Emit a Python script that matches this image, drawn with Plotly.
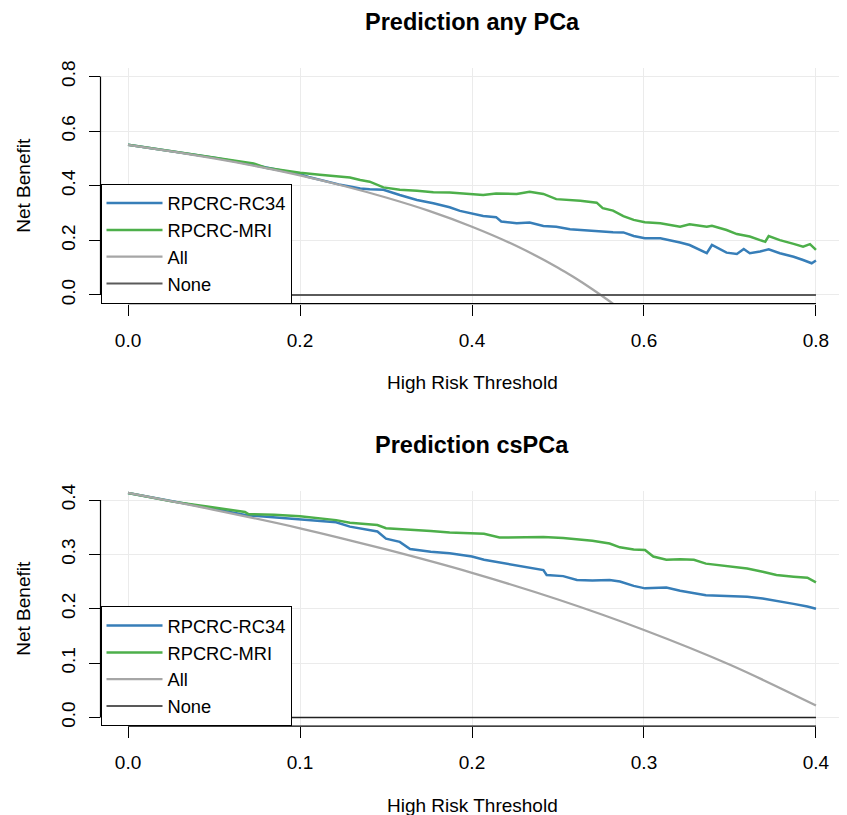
import plotly.graph_objects as go

# ---------------- data ----------------
top_rc34_x = [0, 0.05, 0.10, 0.13, 0.15, 0.17, 0.19, 0.20, 0.21, 0.223, 0.245, 0.258, 0.27, 0.281, 0.297,
              0.316, 0.336, 0.355, 0.374, 0.386, 0.40, 0.413, 0.428, 0.434, 0.452, 0.467, 0.483, 0.498,
              0.514, 0.526, 0.545, 0.564, 0.576, 0.588, 0.601, 0.619, 0.642, 0.653, 0.673, 0.679, 0.696,
              0.708, 0.716, 0.723, 0.735, 0.745, 0.758, 0.774, 0.785, 0.795, 0.80]
top_rc34_y = [0.55, 0.527, 0.503, 0.486, 0.474, 0.462, 0.448, 0.442, 0.432, 0.421, 0.405, 0.397, 0.390, 0.387,
              0.385, 0.366, 0.348, 0.336, 0.321, 0.308, 0.299, 0.289, 0.285, 0.269, 0.263, 0.265, 0.253, 0.250,
              0.241, 0.238, 0.236, 0.230, 0.229, 0.216, 0.208, 0.208, 0.192, 0.183, 0.153, 0.183, 0.155,
              0.150, 0.168, 0.153, 0.159, 0.167, 0.153, 0.140, 0.128, 0.116, 0.126]

top_mri_x = [0, 0.05, 0.10, 0.13, 0.146, 0.16, 0.18, 0.20, 0.223, 0.245, 0.258, 0.27, 0.281, 0.297, 0.316,
             0.336, 0.355, 0.374, 0.40, 0.413, 0.428, 0.452, 0.467, 0.483, 0.498, 0.514, 0.526, 0.545, 0.552,
             0.564, 0.576, 0.588, 0.601, 0.619, 0.642, 0.653, 0.673, 0.679, 0.696, 0.708, 0.723, 0.735, 0.741,
             0.745, 0.758, 0.774, 0.785, 0.793, 0.80]
top_mri_y = [0.55, 0.527, 0.503, 0.488, 0.482, 0.466, 0.456, 0.448, 0.44, 0.432, 0.430, 0.421, 0.415, 0.394,
             0.385, 0.382, 0.376, 0.375, 0.369, 0.366, 0.372, 0.370, 0.378, 0.370, 0.351, 0.348, 0.345, 0.338,
             0.318, 0.309, 0.289, 0.275, 0.266, 0.263, 0.250, 0.259, 0.250, 0.253, 0.238, 0.223, 0.214, 0.201,
             0.195, 0.216, 0.201, 0.187, 0.177, 0.186, 0.165]

top_all_x = [0, 0.05, 0.10, 0.15, 0.20, 0.25, 0.30, 0.35, 0.40, 0.45, 0.50, 0.52, 0.54, 0.56, 0.58]
top_all_y = [0.55, 0.526, 0.50, 0.471, 0.438, 0.400, 0.357, 0.308, 0.25, 0.182, 0.10, 0.062, 0.021, -0.023, -0.07]

top_none_x = [0, 0.8]
top_none_y = [0, 0]

bot_rc34_x = [0, 0.026, 0.046, 0.069, 0.085, 0.10, 0.121, 0.129, 0.137, 0.145, 0.150, 0.158, 0.164, 0.176,
              0.187, 0.20, 0.207, 0.216, 0.23, 0.2415, 0.2434, 0.253, 0.261, 0.270, 0.280, 0.286, 0.294,
              0.3006, 0.313, 0.321, 0.336, 0.348, 0.360, 0.369, 0.377, 0.387, 0.395, 0.40]
bot_rc34_y = [0.413, 0.397, 0.386, 0.372, 0.368, 0.364, 0.359, 0.351, 0.346, 0.342, 0.329, 0.323, 0.310, 0.305,
              0.302, 0.296, 0.290, 0.285, 0.276, 0.271, 0.262, 0.260, 0.253, 0.252, 0.253, 0.250, 0.242,
              0.2375, 0.239, 0.233, 0.225, 0.223, 0.222, 0.219, 0.215, 0.209, 0.204, 0.200]

bot_mri_x = [0, 0.026, 0.046, 0.068, 0.070, 0.085, 0.10, 0.121, 0.129, 0.145, 0.150, 0.164, 0.176, 0.187,
             0.20, 0.207, 0.216, 0.23, 0.2415, 0.253, 0.261, 0.270, 0.280, 0.286, 0.294, 0.3006, 0.3054,
             0.313, 0.321, 0.329, 0.336, 0.348, 0.360, 0.369, 0.377, 0.387, 0.395, 0.40]
bot_mri_y = [0.413, 0.397, 0.388, 0.378, 0.374, 0.373, 0.370, 0.363, 0.358, 0.354, 0.348, 0.346, 0.343, 0.340,
             0.339, 0.338, 0.331, 0.331, 0.332, 0.330, 0.328, 0.325, 0.320, 0.313, 0.309, 0.308, 0.296,
             0.290, 0.291, 0.290, 0.283, 0.2785, 0.274, 0.268, 0.262, 0.259, 0.257, 0.2485]

bot_all_x = [0, 0.05, 0.10, 0.15, 0.20, 0.25, 0.30, 0.35, 0.40]
bot_all_y = [0.413, 0.382, 0.348, 0.309, 0.266, 0.217, 0.161, 0.097, 0.022]

bot_none_x = [0, 0.4]
bot_none_y = [0, 0]

top_ticks = [0.0, 0.2, 0.4, 0.6, 0.8]
top_tick_text = ["0.0", "0.2", "0.4", "0.6", "0.8"]
bot_ticks = [0.0, 0.1, 0.2, 0.3, 0.4]
bot_tick_text = ["0.0", "0.1", "0.2", "0.3", "0.4"]

series_names = ["RPCRC-RC34", "RPCRC-MRI", "All", "None"]
titles = ["Prediction any PCa", "Prediction csPCa"]
xlabel = "High Risk Threshold"
ylabel = "Net Benefit"

# ---------------- styling ----------------
OFF = 8                 # page body margin of the viewer
FW, FH = 847 - OFF, 815 - OFF
FONT = "Liberation Sans, Arial, Helvetica, sans-serif"
C_BLUE = "#377EB8"
C_GREEN = "#4DAF4A"
C_GRAY = "#A6A6A6"
C_NONE_TOP = "#5a5a5a"
C_NONE_BOT = "#222222"
GRID = "#EBEBEB"


def X(px):
    return (px - OFF) / FW


def Y(py):
    return 1 - (py - OFF) / FH


fig = go.Figure()

# top panel traces
fig.add_trace(go.Scatter(x=top_rc34_x, y=top_rc34_y, mode="lines", name=series_names[0],
                         line=dict(color=C_BLUE, width=2.5), xaxis="x", yaxis="y", legend="legend"))
fig.add_trace(go.Scatter(x=top_mri_x, y=top_mri_y, mode="lines", name=series_names[1],
                         line=dict(color=C_GREEN, width=2.5), xaxis="x", yaxis="y", legend="legend"))
fig.add_trace(go.Scatter(x=top_all_x, y=top_all_y, mode="lines", name=series_names[2],
                         line=dict(color=C_GRAY, width=2.3, shape="spline"), xaxis="x", yaxis="y",
                         legend="legend"))
fig.add_trace(go.Scatter(x=top_none_x, y=top_none_y, mode="lines", name=series_names[3],
                         line=dict(color=C_NONE_TOP, width=2), xaxis="x", yaxis="y", legend="legend"))

# bottom panel traces
fig.add_trace(go.Scatter(x=bot_rc34_x, y=bot_rc34_y, mode="lines", name=series_names[0],
                         line=dict(color=C_BLUE, width=2.5), xaxis="x2", yaxis="y2", legend="legend2"))
fig.add_trace(go.Scatter(x=bot_mri_x, y=bot_mri_y, mode="lines", name=series_names[1],
                         line=dict(color=C_GREEN, width=2.5), xaxis="x2", yaxis="y2", legend="legend2"))
fig.add_trace(go.Scatter(x=bot_all_x, y=bot_all_y, mode="lines", name=series_names[2],
                         line=dict(color=C_GRAY, width=2.3, shape="spline"), xaxis="x2", yaxis="y2",
                         legend="legend2"))
fig.add_trace(go.Scatter(x=bot_none_x, y=bot_none_y, mode="lines", name=series_names[3],
                         line=dict(color=C_NONE_BOT, width=1.5), xaxis="x2", yaxis="y2", legend="legend2"))

# plot regions (pixel geometry of the reference)
XL, XR = 100.5, 843.5
TOP_T, TOP_B = 67.8, 303.7
BOT_T, BOT_B = 491.3, 726.2

axis_common = dict(showline=False, zeroline=False, showgrid=True, gridcolor=GRID, gridwidth=1,
                   automargin=False,
                   ticks="outside", ticklen=11, tickwidth=1.2, tickcolor="#000000",
                   tickfont=dict(family=FONT, size=19, color="#000000"))

legend_common = dict(xanchor="left", yanchor="bottom", bgcolor="white",
                     bordercolor="#000000", borderwidth=1,
                     font=dict(family=FONT, size=18.3, color="#000000"),
                     tracegroupgap=0, itemwidth=56, entrywidth=194, entrywidthmode="pixels")

fig.update_layout(
    width=FW, height=FH, margin=dict(l=0, r=0, t=0, b=0, autoexpand=False),
    paper_bgcolor="white", plot_bgcolor="white",
    xaxis=dict(domain=[X(XL), X(XR)], range=[-0.032, 0.832], anchor="y",
               tickvals=top_ticks, ticktext=top_tick_text, ticklabelstandoff=8, **axis_common),
    yaxis=dict(domain=[Y(TOP_B), Y(TOP_T)], range=[-0.032, 0.832], anchor="x",
               tickvals=top_ticks, ticktext=top_tick_text, tickangle=-90, ticklabelstandoff=6,
               **axis_common),
    xaxis2=dict(domain=[X(XL), X(XR)], range=[-0.016, 0.416], anchor="y2",
                tickvals=bot_ticks, ticktext=bot_tick_text, ticklabelstandoff=8, **axis_common),
    yaxis2=dict(domain=[Y(BOT_B), Y(BOT_T)], range=[-0.016, 0.416], anchor="x2",
                tickvals=bot_ticks, ticktext=bot_tick_text, tickangle=-90, ticklabelstandoff=6,
                **axis_common),
    legend=dict(x=X(XL), y=Y(TOP_B), **legend_common),
    legend2=dict(x=X(XL), y=Y(BOT_B), **legend_common),
    showlegend=True,
)

# R-style axis lines (only between first and last tick)
shapes = []
for xr, yr, ticks in (("x", "y", top_ticks), ("x2", "y2", bot_ticks)):
    shapes.append(dict(type="line", xref=xr, yref=yr + " domain", x0=ticks[0], x1=ticks[-1], y0=0, y1=0,
                       line=dict(color="#000000", width=1.2), layer="above"))
    shapes.append(dict(type="line", xref=xr + " domain", yref=yr, x0=0, x1=0, y0=ticks[0], y1=ticks[-1],
                       line=dict(color="#000000", width=1.2), layer="above"))
fig.update_layout(shapes=shapes)

# titles and axis labels
ann = []
cx = X((XL + XR) / 2)
for t, py in ((titles[0], 22), (titles[1], 445)):
    ann.append(dict(text="<b>" + t + "</b>", x=cx, y=Y(py), xref="paper", yref="paper", showarrow=False,
                    xanchor="center", yanchor="middle", font=dict(family=FONT, size=23.5, color="#000000")))
for py in (382, 805):
    ann.append(dict(text=xlabel, x=cx, y=Y(py), xref="paper", yref="paper", showarrow=False,
                    xanchor="center", yanchor="middle", font=dict(family=FONT, size=19, color="#000000")))
for py in ((TOP_T + TOP_B) / 2, (BOT_T + BOT_B) / 2):
    ann.append(dict(text=ylabel, x=X(24), y=Y(py), xref="paper", yref="paper", showarrow=False,
                    textangle=-90, xanchor="center", yanchor="middle",
                    font=dict(family=FONT, size=19, color="#000000")))
fig.update_layout(annotations=ann)

fig.write_html("out.html")
